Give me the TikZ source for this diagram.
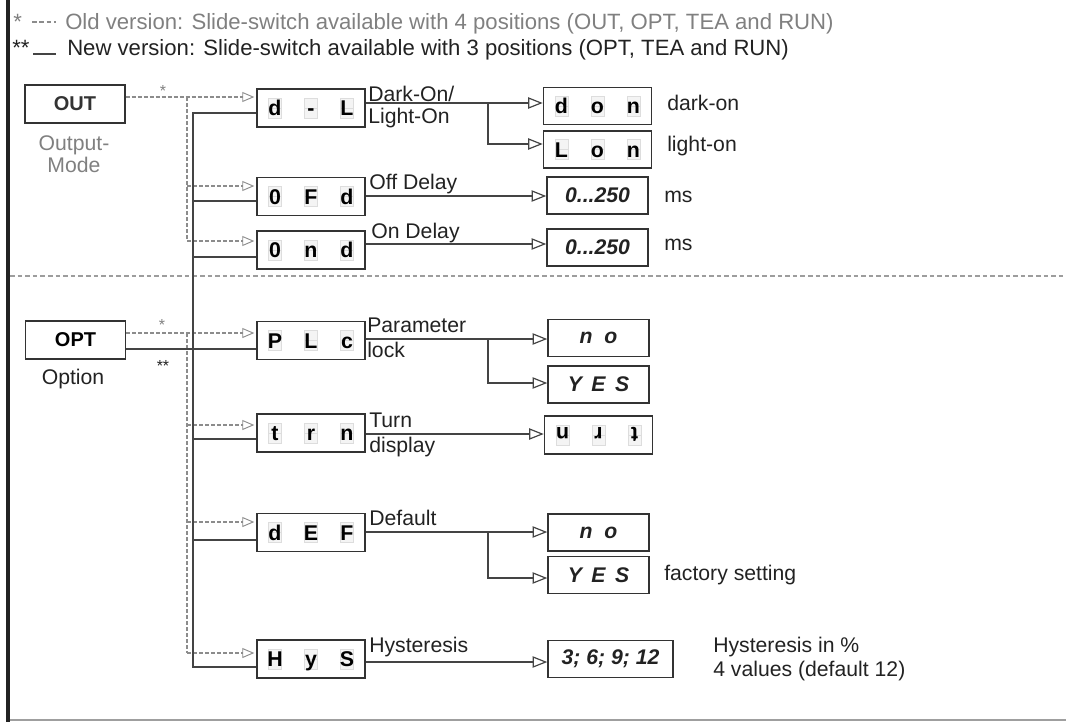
\documentclass[tikz,border=0pt]{standalone}
\usepackage{fontspec}
\setmainfont{Liberation Sans}
\usetikzlibrary{arrows.meta}
\definecolor{lncol}{HTML}{444444}
\definecolor{boxcol}{HTML}{333333}
\definecolor{dshcol}{HTML}{8C8C8C}
\definecolor{txtcol}{HTML}{222222}
\definecolor{greytxt}{HTML}{808080}
\definecolor{ghostcol}{HTML}{DDDDDD}
\definecolor{ghostfill}{HTML}{F4F4F4}
\definecolor{barcol}{HTML}{222222}
\newcommand\segtext[3]{\makebox[27pt]{#1}\makebox[27pt]{#2}\makebox[27pt]{#3}}
\newcommand\ghostcells[2]{\begin{scope}[shift={(#1,#2)}]\foreach \gx in {-36,0,36}{\draw[ghost] (\gx-6.5,-10) rectangle (\gx+6.5,10); \draw[ghost] (\gx-6.5,0) -- (\gx+6.5,0);}\end{scope}}
\tikzset{
 lbox/.style={draw=boxcol,line width=1.1pt,minimum width=75pt,minimum height=28.5pt,inner sep=0pt,font=\fontsize{16}{16}\selectfont\bfseries,text=black,text height=11.5pt,text depth=0pt},
 vbox/.style={draw=boxcol,line width=1.1pt,minimum width=75.75pt,minimum height=28pt,inner sep=0pt,font=\fontsize{15.9}{18}\selectfont\bfseries\itshape,text=txtcol},
 mbox/.style={draw=boxcol,line width=1.1pt,minimum width=75pt,minimum height=28.5pt,inner sep=0pt,font=\fontsize{15}{18}\selectfont\bfseries},
 conn/.style={draw=lncol,line width=1pt},
 dconn/.style={draw=dshcol,line width=0.8pt,dash pattern=on 3pt off 1.5pt},
 arr/.style={-{Triangle[open,length=11pt,width=8.5pt,line width=0.9pt]}},
 darr/.style={-{Triangle[open,length=9pt,width=7.5pt,line width=0.7pt]},shorten >=1.5pt},
 lbl/.style={anchor=base west,inner sep=0pt,font=\fontsize{15.9}{18}\selectfont,text=txtcol},
 leg/.style={anchor=base west,inner sep=0pt,font=\fontsize{16.6}{18}\selectfont,text=txtcol},
 ctr/.style={anchor=base,inner sep=0pt,font=\fontsize{15.9}{18}\selectfont,text=txtcol},
 ghost/.style={draw=ghostcol,fill=ghostfill,line width=0.5pt},
}
\begin{document}
\begin{tikzpicture}[x=0.75pt,y=-0.75pt]
\useasboundingbox (0,0) rectangle (1066,722);
% frame
\fill[barcol] (6,0) rectangle (10,722);
\draw[gray!75,line width=1.8pt] (10,720) -- (1066,720);
\draw[dshcol!85,line width=1.1pt,dash pattern=on 3.5pt off 2.2pt] (10,276) -- (1066,276);
% legend
\node[leg,text=greytxt] (st1) at (13,29) {*};
\coordinate (lg1a) at (32,22); \coordinate (lg1b) at (56,22);
\draw[dshcol,line width=1pt,dash pattern=on 3.5pt off 2pt] (lg1a) -- (lg1b);
\node[leg,text=greytxt] (leg1) at (65,29) {Old version: Slide-switch available with 4 positions (OUT, OPT, TEA and RUN)};
\node[leg] (st2) at (12,55) {**};
\coordinate (lg2a) at (33,54); \coordinate (lg2b) at (56,54);
\draw[conn] (lg2a) -- (lg2b);
\node[leg] (leg2) at (67,55) {New version: Slide-switch available with 3 positions (OPT, TEA and RUN)};
% mode boxes
\node[mbox,text=boxcol] (out) at (75,104) {OUT};
\node[ctr,text=greytxt] (outl1) at (74,150) {Output-};
\node[ctr,text=greytxt] (outl2) at (74,172) {Mode};
\node[mbox,text=black] (opt) at (75.5,340) {OPT};
\node[ctr] (optl) at (73,384) {Option};
\node[inner sep=0pt,font=\fontsize{12}{12}\selectfont,text=greytxt] (sa) at (163,91) {*};
\node[inner sep=0pt,font=\fontsize{12}{12}\selectfont,text=greytxt] (sb) at (162,325) {*};
\node[inner sep=0pt,font=\fontsize{12}{12}\selectfont,text=txtcol] (sc) at (163,366) {**};
% ghost cells
\ghostcells{311}{108}\ghostcells{311}{196.5}\ghostcells{311}{250}\ghostcells{311}{340.5}\ghostcells{311}{433}\ghostcells{311}{532.5}\ghostcells{311}{659}
\ghostcells{597.5}{106}\ghostcells{597.5}{149.5}\ghostcells{598.5}{435}
% left column boxes
\node[lbox] (dl) at (311,108) {\segtext{d}{-}{L}};
\node[lbox] (ofd) at (311,196.5) {\segtext{0}{F}{d}};
\node[lbox] (ond) at (311,250) {\segtext{0}{n}{d}};
\node[lbox] (plc) at (311,340.5) {\segtext{P}{L}{c}};
\node[lbox] (trn) at (311,433) {\segtext{t}{r}{n}};
\node[lbox] (def) at (311,532.5) {\segtext{d}{E}{F}};
\node[lbox] (hys) at (311,659) {\segtext{H}{y}{S}};
% right column boxes
\node[lbox,minimum height=27.5pt] (don) at (597.5,106) {\segtext{d}{o}{n}};
\node[lbox,minimum height=27.5pt] (lon) at (597.5,149.5) {\segtext{L}{o}{n}};
\node[vbox] (va) at (597.5,195.5) {0...250};
\node[vbox] (vb) at (597.5,247.5) {0...250};
\node[vbox] (noa) at (598.5,338) {n\hspace{0.55em}o};
\node[vbox] (yesa) at (598.5,384.5) {Y\hspace{0.45em}E\hspace{0.45em}S};
\node[lbox,rotate=180] (tjr) at (598.5,435) {\segtext{t}{r}{n}};
\node[vbox] (nob) at (598.5,532.5) {n\hspace{0.55em}o};
\node[vbox] (yesb) at (598.5,575) {Y\hspace{0.45em}E\hspace{0.45em}S};
\node[vbox,minimum width=93.75pt] (hv) at (610.5,659) {3; 6; 9; 12};
% side texts
\node[lbl] (tdark) at (667,110) {dark-on};
\node[lbl] (tlight) at (667,151) {light-on};
\node[lbl] (tms1) at (664,202) {ms};
\node[lbl] (tms2) at (664,250) {ms};
\node[lbl] (tfac) at (664,580) {factory setting};
\node[lbl] (th1) at (713,652) {Hysteresis in \%};
\node[lbl] (th2) at (713,676) {4 values (default 12)};
% line labels
\node[lbl] (l1a) at (368,101) {Dark-On/};
\node[lbl] (l1b) at (368,123) {Light-On};
\node[lbl] (l2) at (369,189) {Off Delay};
\node[lbl] (l3) at (371,238) {On Delay};
\node[lbl] (l4a) at (367,332) {Parameter};
\node[lbl] (l4b) at (367,357) {lock};
\node[lbl] (l5a) at (369,427) {Turn};
\node[lbl] (l5b) at (369,452) {display};
\node[lbl] (l6) at (369,525) {Default};
\node[lbl] (l7) at (369,652) {Hysteresis};
% dashed (old version) connectors
\coordinate (dO) at (187,97); \coordinate (dO1) at (187,186); \coordinate (dO2) at (187,241);
\draw[dconn] (dO) -- (dO2);
\draw[dconn,darr] (dO -| out.east) -- (dO -| dl.west);
\draw[dconn,darr] (dO1) -- (dO1 -| ofd.west);
\draw[dconn,darr] (dO2) -- (dO2 -| ond.west);
\coordinate (dP) at (187,333); \coordinate (dP1) at (187,425); \coordinate (dP2) at (187,522); \coordinate (dP3) at (187,653);
\draw[dconn] (dP) -- (dP3);
\draw[dconn,darr] (dP -| opt.east) -- (dP -| plc.west);
\draw[dconn,darr] (dP1) -- (dP1 -| trn.west);
\draw[dconn,darr] (dP2) -- (dP2 -| def.west);
\draw[dconn,darr] (dP3) -- (dP3 -| hys.west);
% solid (new version) connectors
\coordinate (s0) at (193,113); \coordinate (s1) at (193,201); \coordinate (s2) at (193,257);
\coordinate (s3) at (193,349); \coordinate (s4) at (193,439); \coordinate (s5) at (193,540); \coordinate (s6) at (193,667);
\draw[conn] (s0 -| dl.west) -- (s0) -- (s6) -- (s6 -| hys.west);
\draw[conn] (s1) -- (s1 -| ofd.west);
\draw[conn] (s2) -- (s2 -| ond.west);
\draw[conn] (s3 -| opt.east) -- (s3 -| plc.west);
\draw[conn] (s4) -- (s4 -| trn.west);
\draw[conn] (s5) -- (s5 -| def.west);
% value connectors
\coordinate (r0) at (488,103); \coordinate (r0b) at (488,144);
\draw[conn,arr] (r0 -| dl.east) -- (r0 -| don.west);
\draw[conn,arr] (r0) -- (r0b) -- (r0b -| lon.west);
\coordinate (r1) at (480,196); \coordinate (r2) at (480,244);
\draw[conn,arr] (r1 -| ofd.east) -- (r1 -| va.west);
\draw[conn,arr] (r2 -| ond.east) -- (r2 -| vb.west);
\coordinate (r3) at (488,339); \coordinate (r3b) at (488,383);
\draw[conn,arr] (r3 -| plc.east) -- (r3 -| noa.west);
\draw[conn,arr] (r3) -- (r3b) -- (r3b -| yesa.west);
\coordinate (r4) at (480,434);
\draw[conn,arr] (r4 -| trn.east) -- (r4 -| tjr.east);
\coordinate (r5) at (488,532); \coordinate (r5b) at (488,578);
\draw[conn,arr] (r5 -| def.east) -- (r5 -| nob.west);
\draw[conn,arr] (r5) -- (r5b) -- (r5b -| yesb.west);
\coordinate (r6) at (480,662);
\draw[conn,arr] (r6 -| hys.east) -- (r6 -| hv.west);
\end{tikzpicture}
\end{document}
